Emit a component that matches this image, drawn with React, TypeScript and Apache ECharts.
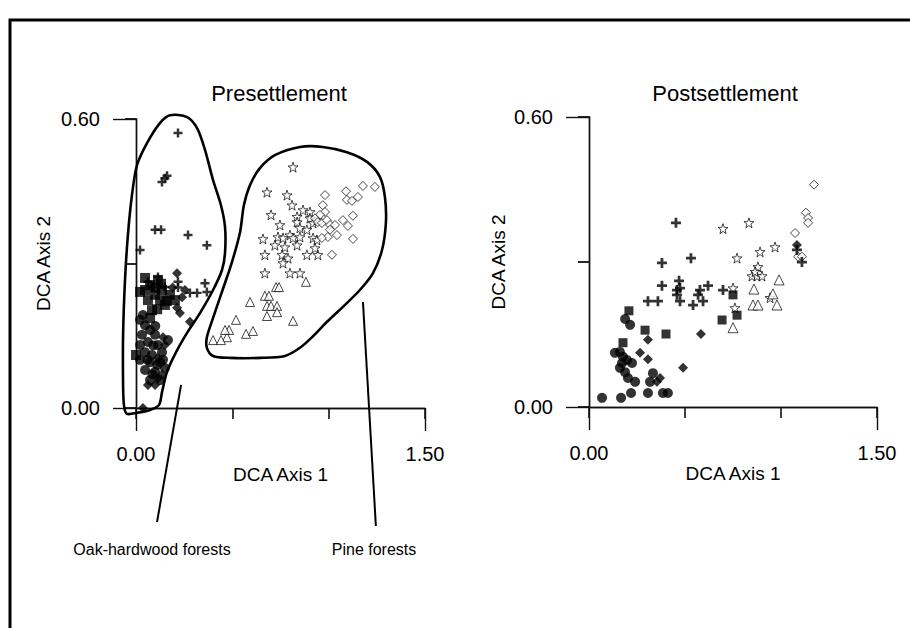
import React, { useEffect, useRef } from "react";
import * as echarts from "echarts";

// ---------- Presettlement (left) ----------
const preSquares: number[][] = [
  [0.047, 0.245], [0.073, 0.255], [0.099, 0.235], [0.062, 0.224], [0.125, 0.224],
  [0.083, 0.203], [0.150, 0.214], [0.047, 0.270], [0.114, 0.266], [0.176, 0.235],
  [0.135, 0.245], [0.021, 0.241], [0.073, 0.187], [0.202, 0.224], [0.0, 0.11],
  [0.100, 0.250], [0.130, 0.258], [0.160, 0.222], [0.110, 0.205],
];
const preCircles: number[][] = [
  [0.021, 0.183], [0.047, 0.172], [0.073, 0.162], [0.031, 0.152], [0.099, 0.152],
  [0.062, 0.137], [0.021, 0.131], [0.114, 0.131], [0.047, 0.116], [0.083, 0.110],
  [0.135, 0.116], [0.021, 0.100], [0.073, 0.095], [0.125, 0.095], [0.047, 0.079],
  [0.099, 0.075], [0.150, 0.083], [0.073, 0.058], [0.125, 0.058], [0.166, 0.141],
  [0.036, 0.193], [0.090, 0.130], [0.110, 0.090], [0.060, 0.100], [0.100, 0.170],
  [0.140, 0.100], [0.085, 0.070],
];
const preDiamonds: number[][] = [
  [0.213, 0.280], [0.254, 0.245], [0.239, 0.230], [0.213, 0.208], [0.228, 0.197],
  [0.280, 0.179], [0.140, 0.147], [0.114, 0.062], [0.062, 0.048], [0.036, 0.0],
  [0.099, 0.048], [0.135, 0.069], [0.114, 0.104], [0.150, 0.131], [0.190, 0.250],
];
const preCrosses: number[][] = [
  [0.218, 0.571], [0.150, 0.477], [0.161, 0.482], [0.135, 0.469], [0.099, 0.370],
  [0.130, 0.370], [0.270, 0.359], [0.368, 0.338], [0.021, 0.328], [0.062, 0.262],
  [0.114, 0.272], [0.150, 0.251], [0.218, 0.262], [0.218, 0.250], [0.280, 0.239],
  [0.317, 0.239], [0.358, 0.259], [0.368, 0.241], [0.083, 0.251],
];
const preStars: number[][] = [
  [0.815, 0.500], [0.680, 0.448], [0.784, 0.442], [0.810, 0.421], [0.701, 0.401],
  [0.836, 0.397], [0.836, 0.386], [0.747, 0.380], [0.867, 0.411], [0.903, 0.407],
  [0.887, 0.370], [0.851, 0.374], [0.659, 0.351], [0.737, 0.355], [0.763, 0.353],
  [0.799, 0.359], [0.815, 0.353], [0.851, 0.355], [0.919, 0.353], [0.939, 0.349],
  [0.721, 0.338], [0.773, 0.334], [0.836, 0.338], [0.669, 0.318], [0.758, 0.318],
  [0.789, 0.311], [0.887, 0.318], [0.944, 0.318], [0.763, 0.301], [0.669, 0.280],
  [0.799, 0.280], [0.851, 0.280], [0.929, 0.332], [0.903, 0.394], [0.919, 0.384],
  [0.939, 0.390],
];
const preOpenDiamonds: number[][] = [
  [0.981, 0.442], [1.090, 0.450], [1.178, 0.461], [1.240, 0.459], [1.095, 0.432],
  [1.121, 0.430], [1.152, 0.438], [0.970, 0.421], [0.981, 0.407], [0.955, 0.401],
  [0.929, 0.394], [0.944, 0.386], [0.965, 0.384], [0.991, 0.390], [1.007, 0.380],
  [1.033, 0.380], [1.074, 0.390], [1.126, 0.399], [1.100, 0.378], [1.007, 0.370],
  [1.043, 0.359], [0.996, 0.355], [0.965, 0.353], [1.126, 0.351], [1.017, 0.318],
];
const preTriangles: number[][] = [
  [0.727, 0.251], [0.742, 0.251], [0.882, 0.262], [0.669, 0.233], [0.690, 0.233],
  [0.592, 0.220], [0.680, 0.212], [0.701, 0.212], [0.732, 0.212], [0.732, 0.199],
  [0.680, 0.191], [0.815, 0.181], [0.483, 0.162], [0.571, 0.154], [0.607, 0.160],
  [0.472, 0.147], [0.400, 0.141], [0.441, 0.141], [0.462, 0.162], [0.519, 0.183],
];

// group outlines (in data units of the left panel)
const oakHull: number[][] = [
  [0.176, 0.608], [0.265, 0.604], [0.317, 0.581], [0.358, 0.536], [0.400, 0.473],
  [0.441, 0.421], [0.462, 0.376], [0.462, 0.322], [0.446, 0.286], [0.400, 0.245],
  [0.332, 0.197], [0.265, 0.156], [0.208, 0.116], [0.161, 0.075], [0.135, 0.033],
  [0.119, 0.006], [0.073, -0.004], [0.005, -0.010], [-0.047, -0.012], [-0.062, 0.004],
  [-0.067, 0.048], [-0.067, 0.152], [-0.057, 0.266], [-0.042, 0.359], [-0.021, 0.442],
  [0.005, 0.504], [0.057, 0.550], [0.125, 0.592],
];
const pineHull: number[][] = [
  [0.851, 0.542], [0.970, 0.542], [1.095, 0.531], [1.199, 0.511], [1.266, 0.480],
  [1.292, 0.438], [1.297, 0.384], [1.277, 0.328], [1.230, 0.280], [1.162, 0.245],
  [1.074, 0.210], [0.991, 0.179], [0.919, 0.149], [0.851, 0.125], [0.773, 0.108],
  [0.643, 0.104], [0.488, 0.104], [0.400, 0.108], [0.368, 0.125], [0.368, 0.147],
  [0.400, 0.187], [0.446, 0.241], [0.498, 0.303], [0.540, 0.365], [0.560, 0.421],
  [0.592, 0.463], [0.643, 0.498], [0.721, 0.525],
];
const oakLeader: number[][] = [[0.234, 0.048], [0.109, -0.237]];
const pineLeader: number[][] = [[1.178, 0.220], [1.245, -0.245]];

// ---------- Postsettlement (right) ----------
const postSquares: number[][] = [
  [0.208, 0.199], [0.292, 0.159], [0.401, 0.151], [0.177, 0.133], [0.693, 0.180],
  [0.750, 0.232], [0.771, 0.190],
];
const postCircles: number[][] = [
  [0.188, 0.182], [0.214, 0.170], [0.135, 0.112], [0.161, 0.114], [0.172, 0.091],
  [0.161, 0.081], [0.188, 0.072], [0.203, 0.060], [0.240, 0.052], [0.198, 0.097],
  [0.224, 0.091], [0.333, 0.070], [0.318, 0.052], [0.068, 0.019], [0.167, 0.019],
  [0.219, 0.029], [0.307, 0.029], [0.385, 0.029], [0.411, 0.029], [0.177, 0.104],
];
const postDiamonds: number[][] = [
  [0.307, 0.139], [0.266, 0.112], [0.307, 0.099], [0.370, 0.060], [0.354, 0.052],
  [0.490, 0.081], [0.583, 0.151], [1.083, 0.335],
];
const postCrosses: number[][] = [
  [0.453, 0.381], [0.380, 0.298], [0.531, 0.308], [0.380, 0.251], [0.469, 0.261],
  [0.458, 0.242], [0.474, 0.246], [0.578, 0.242], [0.620, 0.251], [0.698, 0.242],
  [0.307, 0.219], [0.359, 0.219], [0.474, 0.219], [0.542, 0.211], [0.594, 0.219],
  [0.568, 0.232], [0.458, 0.232], [1.083, 0.325], [1.109, 0.300],
];
const postStars: number[][] = [
  [0.698, 0.369], [0.771, 0.308], [0.750, 0.246], [0.760, 0.205], [0.833, 0.381],
  [0.891, 0.321], [0.969, 0.331], [0.880, 0.290], [0.849, 0.271], [0.875, 0.271],
  [0.901, 0.271], [0.865, 0.280], [0.943, 0.226],
];
const postTriangles: number[][] = [
  [0.750, 0.164], [0.990, 0.263], [0.859, 0.244], [0.958, 0.234], [0.854, 0.211],
  [0.880, 0.211], [0.979, 0.211],
];
const postOpenDiamonds: number[][] = [
  [1.172, 0.460], [1.130, 0.402], [1.141, 0.391], [1.141, 0.381], [1.073, 0.360],
  [1.089, 0.311], [1.109, 0.311],
];

const xTickLabels = [0, 1.5];
const yTickLabels = [0, 0.6];

const FONT = "Liberation Sans, Arial, sans-serif";
const CROSS = "path://M-1.1,-4H1.1V-1.1H4V1.1H1.1V4H-1.1V1.1H-4V-1.1H-1.1Z";
const STAR =
  "path://M0,-10L2.35,-3.24L9.51,-3.09L3.8,1.24L5.88,8.09L0,4L-5.88,8.09L-3.8,1.24L-9.51,-3.09L-2.35,-3.24Z";

function scatter(data: number[][], symbol: string, size: number, open: boolean, idx: number) {
  return {
    type: "scatter",
    xAxisIndex: idx,
    yAxisIndex: idx,
    data,
    symbol,
    symbolSize: size,
    silent: true,
    z: open ? 3 : 4,
    itemStyle: open
      ? { color: "#fff", borderColor: "#000", borderWidth: 0.9 }
      : { color: "#000" },
  };
}

// outline drawn through the axes' own scale (api.coord), not clipped to the grid
function outline(pts: number[][], width: number, closed: boolean) {
  return {
    type: "custom",
    xAxisIndex: 1,
    yAxisIndex: 1,
    silent: true,
    clip: false,
    z: 2,
    data: [[0.5, 0.3]],
    renderItem: (_params: any, api: any) => ({
      type: closed ? "polygon" : "polyline",
      shape: { points: pts.map((p) => api.coord(p)), smooth: closed ? 0.3 : 0 },
      style: { fill: closed ? "none" : null, stroke: "#000", lineWidth: width },
    }),
  };
}

const axisLine = { color: "#111", width: 1.4 };

function xAxes(grid: number) {
  return [
    {
      type: "value", gridIndex: grid, min: 0, max: 1.5, interval: 0.5, position: "bottom",
      axisLine: { show: true, onZero: false, lineStyle: axisLine },
      axisTick: { show: true, length: 11, lineStyle: { color: "#111", width: 1.6 } },
      axisLabel: { show: false }, splitLine: { show: false },
    },
    {
      type: "value", gridIndex: grid, min: xTickLabels[0], max: xTickLabels[1], interval: 1.5,
      position: "bottom",
      axisLine: { show: true, onZero: false, lineStyle: axisLine },
      axisTick: { show: true, length: 23, lineStyle: { color: "#111", width: 1.4 } },
      axisLabel: {
        show: true, margin: 36, fontSize: 20, color: "#000", fontFamily: FONT,
        formatter: (v: number) => v.toFixed(2),
      },
      splitLine: { show: false },
      name: "DCA Axis 1", nameLocation: "middle", nameGap: grid === 0 ? 49 : 51,
      nameTextStyle: { fontSize: 19, color: "#000", fontFamily: FONT },
    },
  ];
}

function yAxes(grid: number) {
  return [
    {
      type: "value", gridIndex: grid, min: 0, max: 0.6, interval: 0.3, position: "left",
      axisLine: { show: true, onZero: false, lineStyle: axisLine },
      axisTick: { show: true, length: 11, lineStyle: { color: "#111", width: 1.8 } },
      axisLabel: { show: false }, splitLine: { show: false },
    },
    {
      type: "value", gridIndex: grid, min: yTickLabels[0], max: yTickLabels[1], interval: 0.6,
      position: "left",
      axisLine: { show: true, onZero: false, lineStyle: axisLine },
      axisTick: { show: true, length: 23, lineStyle: { color: "#111", width: 1.4 } },
      axisLabel: {
        show: true, margin: 36, fontSize: 20, color: "#000", fontFamily: FONT,
        formatter: (v: number) => v.toFixed(2),
      },
      splitLine: { show: false },
      name: "DCA Axis 2", nameLocation: "middle", nameGap: grid === 0 ? 83 : 81,
      nameTextStyle: { fontSize: 19, color: "#000", fontFamily: FONT },
    },
  ];
}

export default function App() {
  const ref = useRef<HTMLDivElement>(null);
  useEffect(() => {
    document.body.style.margin = "0";
    if (!ref.current) return;
    const chart = echarts.init(ref.current, null, { renderer: "svg" });
    chart.setOption({
      animation: false,
      backgroundColor: "#fff",
      grid: [
        { left: 136, top: 119, width: 289, height: 289 },
        { left: 589, top: 117, width: 288, height: 290 },
      ],
      xAxis: [...xAxes(0), ...xAxes(1)],
      yAxis: [...yAxes(0), ...yAxes(1)],
      series: [
        outline(oakHull, 2.6, true),
        outline(pineHull, 2.6, true),
        outline(oakLeader, 2, false),
        outline(pineLeader, 2, false),
        scatter(preStars, STAR, 10, true, 1),
        scatter(preOpenDiamonds, "diamond", 9, true, 1),
        scatter(preTriangles, "triangle", 9, true, 1),
        scatter(preCrosses, CROSS, 9, false, 1),
        scatter(preSquares, "rect", 10, false, 1),
        scatter(preCircles, "circle", 10, false, 1),
        scatter(preDiamonds, "diamond", 10, false, 1),
        scatter(postStars, STAR, 10, true, 3),
        scatter(postOpenDiamonds, "diamond", 9, true, 3),
        scatter(postTriangles, "triangle", 10, true, 3),
        scatter(postCrosses, CROSS, 10, false, 3),
        scatter(postSquares, "rect", 9, false, 3),
        scatter(postCircles, "circle", 10, false, 3),
        scatter(postDiamonds, "diamond", 10, false, 3),
      ],
      graphic: [
        {
          type: "rect", silent: true, z: 0,
          shape: { x: 10, y: 20, width: 940, height: 660 },
          style: { fill: "none", stroke: "#000", lineWidth: 3 },
        },
        {
          type: "text", x: 279, y: 93, silent: true,
          style: { text: "Presettlement", fontSize: 22, fontFamily: FONT, fill: "#000", align: "center", verticalAlign: "middle" },
        },
        {
          type: "text", x: 725, y: 93, silent: true,
          style: { text: "Postsettlement", fontSize: 22, fontFamily: FONT, fill: "#000", align: "center", verticalAlign: "middle" },
        },
        {
          type: "text", x: 152, y: 549, silent: true,
          style: { text: "Oak-hardwood forests", fontSize: 16, fontFamily: FONT, fill: "#000", align: "center", verticalAlign: "middle" },
        },
        {
          type: "text", x: 374, y: 549, silent: true,
          style: { text: "Pine forests", fontSize: 16, fontFamily: FONT, fill: "#000", align: "center", verticalAlign: "middle" },
        },
      ],
    });
    return () => chart.dispose();
  }, []);
  return <div ref={ref} style={{ width: 910, height: 628 }} />;
}
